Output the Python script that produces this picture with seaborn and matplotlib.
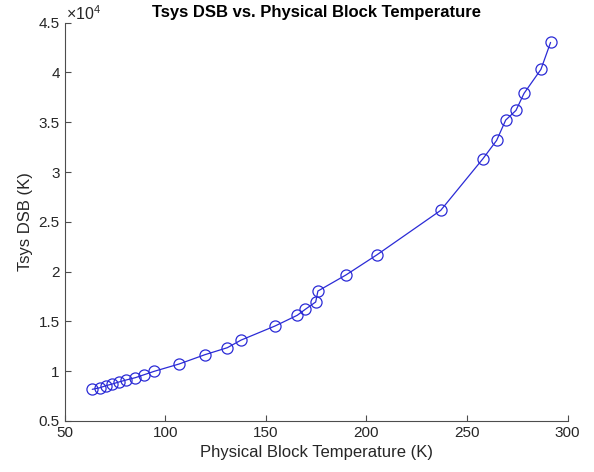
import numpy as np
import pandas as pd
import matplotlib
matplotlib.use("Agg")
import matplotlib.pyplot as plt
import seaborn as sns
from matplotlib.ticker import FuncFormatter

# Physical block temperature (K) and Tsys DSB (K)
block_temp = [63.8, 67.6, 70.5, 73.7, 77.1, 80.7, 85.2, 89.6, 94.6, 106.9,
              119.8, 130.9, 137.8, 154.6, 165.6, 169.6, 174.8, 175.9, 189.8, 205.1,
              236.9, 257.9, 264.7, 269.2, 274.3, 278.3, 286.7, 291.5]
tsys_dsb = [8180, 8340, 8540, 8710, 8920, 9120, 9350, 9650, 9990, 10720,
            11660, 12360, 13130, 14540, 15610, 16210, 16950, 18050, 19660, 21670,
            26150, 31340, 33180, 35220, 36190, 37900, 40310, 43020]

x_ticks = [50, 100, 150, 200, 250, 300]
y_ticks = [5000, 10000, 15000, 20000, 25000, 30000, 35000, 40000, 45000]

df = pd.DataFrame({"temp": block_temp, "tsys": tsys_dsb})

sns.set_style("white")
plt.rcParams['font.family'] = ['Liberation Sans', 'DejaVu Sans']
plt.rcParams['mathtext.fontset'] = 'custom'
plt.rcParams['mathtext.rm'] = 'Liberation Sans'

fig = plt.figure(figsize=(5.94, 4.72), dpi=100)
ax = fig.add_axes([0.1086, 0.1081, 0.8471, 0.8438])

line_col = '#2b2bd6'
sns.lineplot(data=df, x="temp", y="tsys", ax=ax, color=line_col, linewidth=0.9,
             marker='o', markersize=8, markerfacecolor='none',
             markeredgecolor=line_col, markeredgewidth=0.9, sort=False)

ax.set_xlim(50, 300)
ax.set_ylim(5000, 45000)
ax.set_xticks(x_ticks)
ax.set_yticks(y_ticks)
ax.yaxis.set_major_formatter(FuncFormatter(lambda v, p: f"{v/1e4:g}"))

axis_col = '#4d4d4d'
for side in ['top', 'right']:
    ax.spines[side].set_visible(False)
for side in ['left', 'bottom']:
    ax.spines[side].set_color(axis_col)
    ax.spines[side].set_linewidth(0.8)
ax.tick_params(direction='in', length=4, width=0.8, colors=axis_col,
               labelcolor='#262626', labelsize=11, left=True, bottom=True)

ax.set_xlabel('Physical Block Temperature (K)', fontsize=12, color='#262626')
ax.set_ylabel('Tsys DSB (K)', fontsize=12, color='#262626')
ax.set_title('Tsys DSB vs. Physical Block Temperature', fontsize=12,
             fontweight='bold', color='black', pad=4)

# exponent label like MATLAB's axis multiplier
ax.text(0.002, 1.0, r'$\times10^4$', transform=ax.transAxes, fontsize=11.5,
        color='#262626', ha='left', va='bottom')

fig.savefig('out.png', dpi=100)
